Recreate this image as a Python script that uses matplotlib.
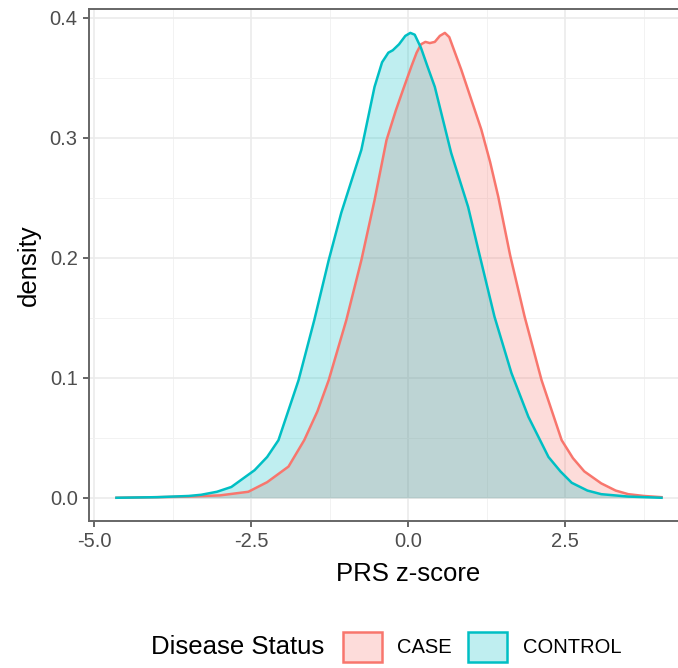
import matplotlib
matplotlib.use("Agg")
import matplotlib.pyplot as plt
from matplotlib.patches import Patch
from matplotlib.colors import to_rgba
import numpy as np

# densities (x = PRS z-score, y = density)
case_x = [-4.65, -4.0, -3.5, -3.0, -2.55, -2.25, -1.91, -1.66, -1.45, -1.27,
          -0.99, -0.75, -0.54, -0.35, -0.20, -0.08, 0.05, 0.13, 0.20, 0.27,
          0.34, 0.42, 0.50, 0.58, 0.65, 0.72, 0.84, 1.00, 1.16, 1.30,
          1.43, 1.62, 1.85, 2.12, 2.44, 2.62, 2.80, 3.07, 3.30, 3.50,
          3.75, 4.03]
case_y = [0.0, 0.0005, 0.001, 0.002, 0.005, 0.013, 0.026, 0.048, 0.072, 0.098,
          0.148, 0.198, 0.248, 0.298, 0.323, 0.341, 0.360, 0.371, 0.378, 0.380,
          0.379, 0.380, 0.385, 0.3875, 0.384, 0.374, 0.357, 0.332, 0.307, 0.280,
          0.251, 0.202, 0.151, 0.098, 0.048, 0.033, 0.022, 0.012, 0.006, 0.003,
          0.0015, 0.0005]

ctrl_x = [-4.65, -4.0, -3.5, -3.3, -3.05, -2.82, -2.45, -2.25, -2.07, -1.75,
          -1.50, -1.27, -1.07, -0.75, -0.54, -0.42, -0.32, -0.25, -0.15, -0.05,
          0.03, 0.10, 0.20, 0.30, 0.42, 0.68, 0.95, 1.13, 1.37, 1.64,
          1.91, 2.23, 2.42, 2.60, 2.85, 3.07, 3.50, 4.03]
ctrl_y = [0.0, 0.0005, 0.0015, 0.0025, 0.005, 0.009, 0.023, 0.034, 0.048, 0.098,
          0.148, 0.198, 0.2375, 0.290, 0.3425, 0.363, 0.371, 0.373, 0.378, 0.385,
          0.3875, 0.386, 0.375, 0.360, 0.3425, 0.2875, 0.2425, 0.203, 0.151, 0.104,
          0.0675, 0.034, 0.022, 0.0125, 0.006, 0.003, 0.001, 0.0]

groups = ["CASE", "CONTROL"]
colors = {"CASE": "#F8766D", "CONTROL": "#00BFC4"}
x_ticks = [-5.0, -2.5, 0.0, 2.5]
y_ticks = [0.0, 0.1, 0.2, 0.3, 0.4]

plt.rcParams["font.family"] = ["Liberation Sans", "DejaVu Sans"]

fig = plt.figure(figsize=(6.78, 6.68), dpi=100)
# panel runs past the right edge of the picture, as in the (cropped) original
ax = fig.add_axes([0.131, 0.22, 0.941, 0.7665])

for name, xs, ys in [("CASE", case_x, case_y), ("CONTROL", ctrl_x, ctrl_y)]:
    ax.fill_between(xs, ys, 0, color=colors[name], alpha=0.25, linewidth=0, zorder=2)
    ax.plot(xs, ys, color=colors[name], linewidth=1.8, zorder=3,
            solid_joinstyle="round")

ax.set_xticks(x_ticks)
ax.set_xticklabels([f"{v:.1f}" for v in x_ticks])
ax.set_yticks(y_ticks)
ax.set_yticklabels([f"{v:.1f}" for v in y_ticks])
ax.set_xticks(np.arange(-3.75, 5, 2.5), minor=True)
ax.set_yticks(np.arange(0.05, 0.41, 0.1), minor=True)
ax.set_xlim(-5.09, 5.07)
ax.set_ylim(-0.0194, 0.4074)

ax.grid(which="major", color="#EBEBEB", linewidth=1.2, zorder=0)
ax.grid(which="minor", color="#F2F2F2", linewidth=0.7, zorder=0)
ax.set_axisbelow(True)
ax.tick_params(which="major", length=4.5, width=1.2, color="#4D4D4D",
               labelcolor="#4D4D4D", labelsize=14.5, pad=3.5)
ax.tick_params(which="minor", length=0)
for sp in ax.spines.values():
    sp.set_color("#666666")
    sp.set_linewidth(1.4)

ax.set_xlabel("PRS z-score", fontsize=18.5, labelpad=8)
ax.set_ylabel("density", fontsize=18.5, labelpad=6)

# legend at the bottom, title on the left
fig.text(151 / 678, 1 - 647 / 668, "Disease Status", fontsize=18.5, va="center", ha="left")
handles = [Patch(facecolor=to_rgba(colors[g], 0.25), edgecolor=colors[g], linewidth=1.8)
           for g in groups]
fig.legend(handles, groups, loc="center left", ncol=2,
           bbox_to_anchor=(327 / 678, 1 - 647 / 668), frameon=False,
           fontsize=14.5, handlelength=1.95, handleheight=1.85,
           handletextpad=0.75, columnspacing=0.8, borderpad=0.3)

fig.savefig("out.png", dpi=100)
